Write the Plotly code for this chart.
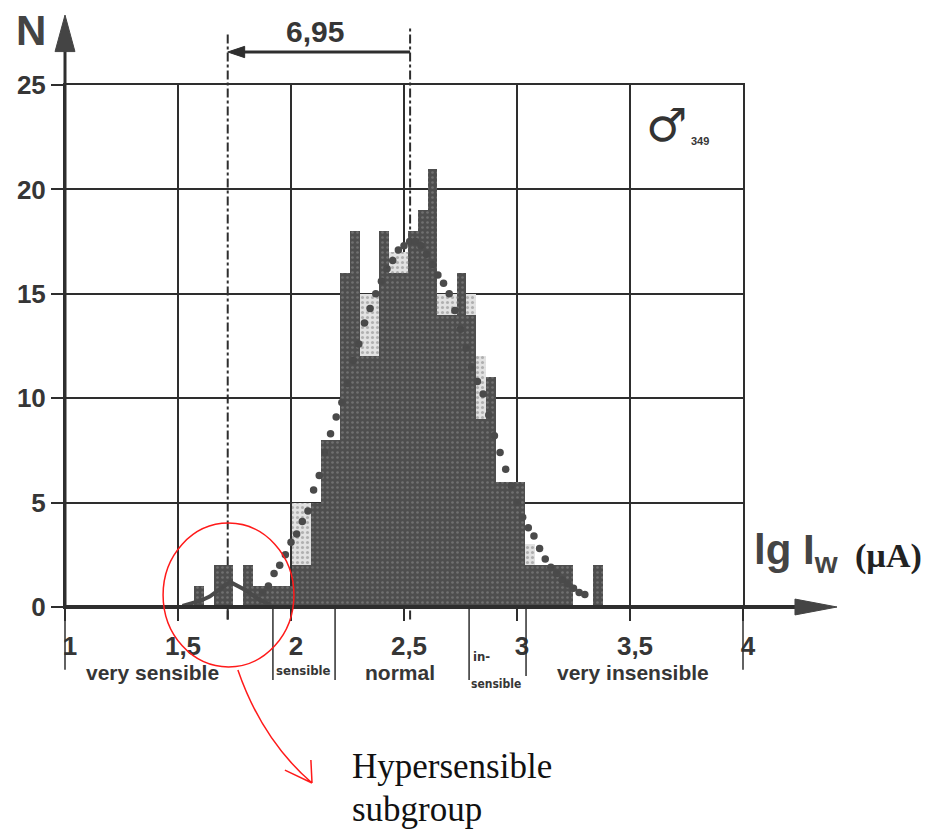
import plotly.graph_objects as go

# ---- data -------------------------------------------------------------
# histogram bin centres on the lg I_w axis (bin width 0.043)
bin_centers = [1.594, 1.637, 1.680, 1.723, 1.766, 1.809, 1.852, 1.895, 1.938, 1.981,
               2.024, 2.067, 2.110, 2.153, 2.196, 2.239, 2.282, 2.325, 2.368, 2.411,
               2.454, 2.497, 2.540, 2.583, 2.626, 2.669, 2.712, 2.755, 2.798, 2.841,
               2.884, 2.927, 2.970, 3.013, 3.056, 3.099, 3.142, 3.185, 3.228, 3.271,
               3.314, 3.357, 3.400, 3.443, 3.486]
bin_width = 0.043

# observed counts (dark bars)
counts_observed = [1, 0, 2, 2, 0, 2, 1, 1, 1, 1,
                   2, 2, 5, 8, 8, 16, 18, 12, 12, 18,
                   16, 16, 18, 19, 21, 14, 14, 16, 14, 9,
                   11, 6, 6, 6, 2, 2, 2, 2, 2, 0,
                   0, 2, 0, 0, 0]

# expected counts (light dotted bars, visible where they exceed the observed ones)
counts_expected = [0, 0, 0, 0, 0, 0, 0, 0, 0, 0,
                   5, 5, 0, 0, 0, 0, 0, 15, 15, 0,
                   17, 17, 0, 0, 0, 15, 15, 0, 15, 12,
                   0, 0, 0, 0, 3, 0, 0, 0, 0, 0,
                   0, 0, 0, 0, 0]

# fitted distribution (dotted curve)
curve_lg = [1.875, 1.900, 1.925, 1.950, 1.975, 2.000, 2.025, 2.050, 2.075, 2.100,
            2.125, 2.150, 2.175, 2.200, 2.225, 2.250, 2.275, 2.300, 2.325, 2.350,
            2.375, 2.400, 2.425, 2.450, 2.475, 2.500, 2.525, 2.550, 2.575, 2.600,
            2.625, 2.650, 2.675, 2.700, 2.725, 2.750, 2.775, 2.800, 2.825, 2.850,
            2.875, 2.900, 2.925, 2.950, 2.975, 3.000, 3.025, 3.050, 3.075, 3.100,
            3.125, 3.150, 3.175, 3.200, 3.225, 3.250, 3.275, 3.300]
curve_n = [0.7, 1.0, 1.6, 2.0, 2.5, 3.1, 3.5, 4.1, 4.6, 5.6,
           6.3, 7.4, 8.3, 9.1, 9.8, 10.7, 11.8, 12.6, 13.6, 14.3,
           15.0, 15.6, 16.2, 16.6, 17.1, 17.3, 17.5, 17.5, 17.3, 16.9,
           16.4, 15.9, 15.5, 15.0, 14.2, 13.3, 12.4, 11.5, 10.8, 10.2,
           9.2, 8.2, 7.4, 6.6, 5.8, 5.0, 4.3, 3.8, 3.4, 2.8,
           2.3, 1.9, 1.6, 1.3, 1.1, 0.9, 0.7, 0.6]

# hypersensible sub-population outline
hump_lg = [1.52, 1.60, 1.64, 1.73, 1.80, 1.86, 1.91]
hump_n = [0.05, 0.3, 0.5, 1.2, 0.8, 0.35, 0.1]

x_tick_vals = [1, 1.5, 2, 2.5, 3, 3.5, 4]
x_tick_text = ["1", "1,5", "2", "2,5", "3", "3,5", "4"]
y_tick_vals = [0, 5, 10, 15, 20, 25]
y_tick_text = ["0", "5", "10", "15", "20", "25"]

# sensitivity classes: boundaries and labels
class_bounds = [1.0, 1.92, 2.195, 2.788, 3.04, 4.0]
class_bound_len = [-3.0, -3.5, -3.5, -3.5, -3.3, -3.0]
class_labels = ["very sensible", "sensible", "normal", "very insensible"]
class_label_x = [1.389, 2.055, 2.482, 3.515]

mean_all = 2.527      # mean of the whole group
mean_sub = 1.72       # mean of the hypersensible subgroup
ratio_text = "6,95"

# ---- styling ----------------------------------------------------------
LINE = "#2e2e2e"
TXT = "#363636"
SANS = "Liberation Sans, Arial, sans-serif"
NARROW = "Liberation Sans Narrow, DejaVu Sans Condensed, sans-serif"
SERIF = "Liberation Serif, Times New Roman, serif"
X0, X1 = 1.0, 4.0
Y0, Y1 = 0.0, 25.0


def xp(v):
    return (v - X0) / (X1 - X0)


def yp(v):
    return (v - Y0) / (Y1 - Y0)


fig = go.Figure()

fig.add_trace(go.Bar(
    x=bin_centers, y=counts_expected, width=bin_width,
    marker=dict(color="#dcdcdc", line=dict(width=0),
                pattern=dict(shape=".", fgcolor="#7d7d7d", bgcolor="#e2e2e2",
                             size=5, solidity=0.3)),
    hoverinfo="skip"))

fig.add_trace(go.Bar(
    x=bin_centers, y=counts_observed, width=bin_width,
    marker=dict(color="#505050", line=dict(width=0),
                pattern=dict(shape=".", fgcolor="#929292", bgcolor="#4e4e4e",
                             size=5, solidity=0.22)),
    hoverinfo="skip"))

fig.add_trace(go.Scatter(
    x=curve_lg, y=curve_n, mode="markers",
    marker=dict(color="#4a4a4a", size=7.5), hoverinfo="skip"))

fig.add_trace(go.Scatter(
    x=hump_lg, y=hump_n, mode="lines",
    line=dict(color="#4a4a4a", width=4), hoverinfo="skip"))

fig.update_layout(
    width=937, height=829,
    margin=dict(l=65, r=194, t=85, b=222),
    plot_bgcolor="white", paper_bgcolor="white",
    barmode="overlay", bargap=0, showlegend=False,
)

fig.update_xaxes(
    range=[X0, X1], tickvals=x_tick_vals, ticktext=x_tick_text,
    showgrid=True, gridcolor=LINE, gridwidth=2,
    showline=True, mirror=True, linecolor=LINE, linewidth=2,
    ticks="outside", ticklen=12, tickwidth=2, tickcolor=LINE,
    ticklabelstandoff=3, ticklabelshift=5,
    tickfont=dict(family=SANS, size=26, color=TXT, weight="bold"),
    zeroline=False,
)
fig.update_yaxes(
    range=[Y0, Y1], tickvals=y_tick_vals, ticktext=y_tick_text,
    showgrid=True, gridcolor=LINE, gridwidth=2,
    showline=True, mirror=True, linecolor=LINE, linewidth=2,
    ticks="outside", ticklen=12, tickwidth=2, tickcolor=LINE,
    tickfont=dict(family=SANS, size=26, color=TXT, weight="bold"),
    zeroline=False,
)

shapes = []

# dash-dot lines marking the two means
for xv, top in [(mean_sub, 27.5), (mean_all, 27.7)]:
    shapes.append(dict(type="line", xref="paper", yref="paper",
                       x0=xp(xv), x1=xp(xv), y0=yp(-0.6), y1=yp(top),
                       line=dict(color=LINE, width=2, dash="dashdot"),
                       layer="below"))

# arrow between the means
shapes.append(dict(type="line", xref="paper", yref="paper",
                   x0=xp(mean_all), x1=xp(1.78), y0=yp(26.58), y1=yp(26.58),
                   line=dict(color=LINE, width=3)))
shapes.append(dict(type="path", xref="paper", yref="paper",
                   path=f"M {xp(mean_sub)} {yp(26.58)} L {xp(1.795)} {yp(26.85)} "
                        f"L {xp(1.795)} {yp(26.31)} Z",
                   fillcolor=LINE, line=dict(color=LINE, width=1)))

# N axis with arrow head
shapes.append(dict(type="line", xref="paper", yref="paper",
                   x0=xp(1.0), x1=xp(1.0), y0=yp(0), y1=yp(27.0),
                   line=dict(color=LINE, width=3)))
shapes.append(dict(type="path", xref="paper", yref="paper",
                   path=f"M {xp(1.0)} {yp(28.35)} L {xp(1.044)} {yp(26.6)} "
                        f"L {xp(0.956)} {yp(26.6)} Z",
                   fillcolor="#444444", line=dict(color="#444444", width=1)))

# lg I axis with arrow head
shapes.append(dict(type="line", xref="paper", yref="paper",
                   x0=xp(1.0), x1=xp(4.25), y0=yp(0), y1=yp(0),
                   line=dict(color=LINE, width=4)))
shapes.append(dict(type="path", xref="paper", yref="paper",
                   path=f"M {xp(4.416)} {yp(0)} L {xp(4.23)} {yp(0.38)} "
                        f"L {xp(4.23)} {yp(-0.38)} Z",
                   fillcolor="#444444", line=dict(color="#444444", width=1)))

# class boundaries below the axis
for xv, ln in zip(class_bounds, class_bound_len):
    shapes.append(dict(type="line", xref="paper", yref="paper",
                       x0=xp(xv), x1=xp(xv), y0=yp(0), y1=yp(ln),
                       line=dict(color=LINE, width=1.5)))
# tick at the subgroup mean
shapes.append(dict(type="line", xref="paper", yref="paper",
                   x0=xp(mean_sub), x1=xp(mean_sub), y0=yp(0), y1=yp(-0.6),
                   line=dict(color=LINE, width=2)))

# red circle around the subgroup and the pointer to its caption
shapes.append(dict(type="circle", xref="paper", yref="paper",
                   x0=xp(1.434), x1=xp(2.013), y0=yp(-2.87), y1=yp(4.02),
                   line=dict(color="#ff1a1a", width=1.5)))
shapes.append(dict(type="path", xref="paper", yref="paper",
                   path=f"M {xp(1.765)} {yp(-3.02)} Q {xp(1.872)} {yp(-6.37)} {xp(2.093)} {yp(-8.43)} "
                        f"M {xp(2.093)} {yp(-8.43)} L {xp(2.088)} {yp(-7.33)} "
                        f"M {xp(2.093)} {yp(-8.43)} L {xp(1.973)} {yp(-7.81)}",
                   line=dict(color="#ff1a1a", width=1.5)))

fig.update_layout(shapes=shapes)

ann = []


def label(x, y, text, size, family=SANS, color=TXT, weight="bold", xanchor="center"):
    ann.append(dict(xref="paper", yref="paper", x=xp(x), y=yp(y), text=text,
                    showarrow=False, xanchor=xanchor, yanchor="middle",
                    font=dict(family=family, size=size, color=color, weight=weight)))


label(0.85, 27.6, "N", 42, color="#444444")
label(2.106, 27.55, ratio_text, 30)
label(class_label_x[0], -3.15, class_labels[0], 21)
label(class_label_x[1], -3.05, class_labels[1], 13, family=NARROW)
label(class_label_x[2], -3.15, class_labels[2], 21)
label(2.841, -2.39, "in-", 13, family=NARROW)
label(2.909, -3.69, "sensible", 12, family=NARROW)
label(class_label_x[3], -3.15, class_labels[3], 21)
label(3.66, 23.08, "\u2642", 46, family="DejaVu Sans, sans-serif", color="#333333")
label(3.81, 22.3, "349", 11)
label(4.04, 2.6, "lg I<sub>w</sub>", 42, color="#444444", xanchor="left")
label(4.485, 2.45, "(\u00b5A)", 34, family=SERIF, color="#222222", xanchor="left")
label(2.261, -7.66, "Hypersensible", 35, family=SERIF,
      color="#111111", weight="normal", xanchor="left")
label(2.261, -9.72, "subgroup", 35, family=SERIF,
      color="#111111", weight="normal", xanchor="left")

fig.update_layout(annotations=ann)

fig.write_html("out.html")
